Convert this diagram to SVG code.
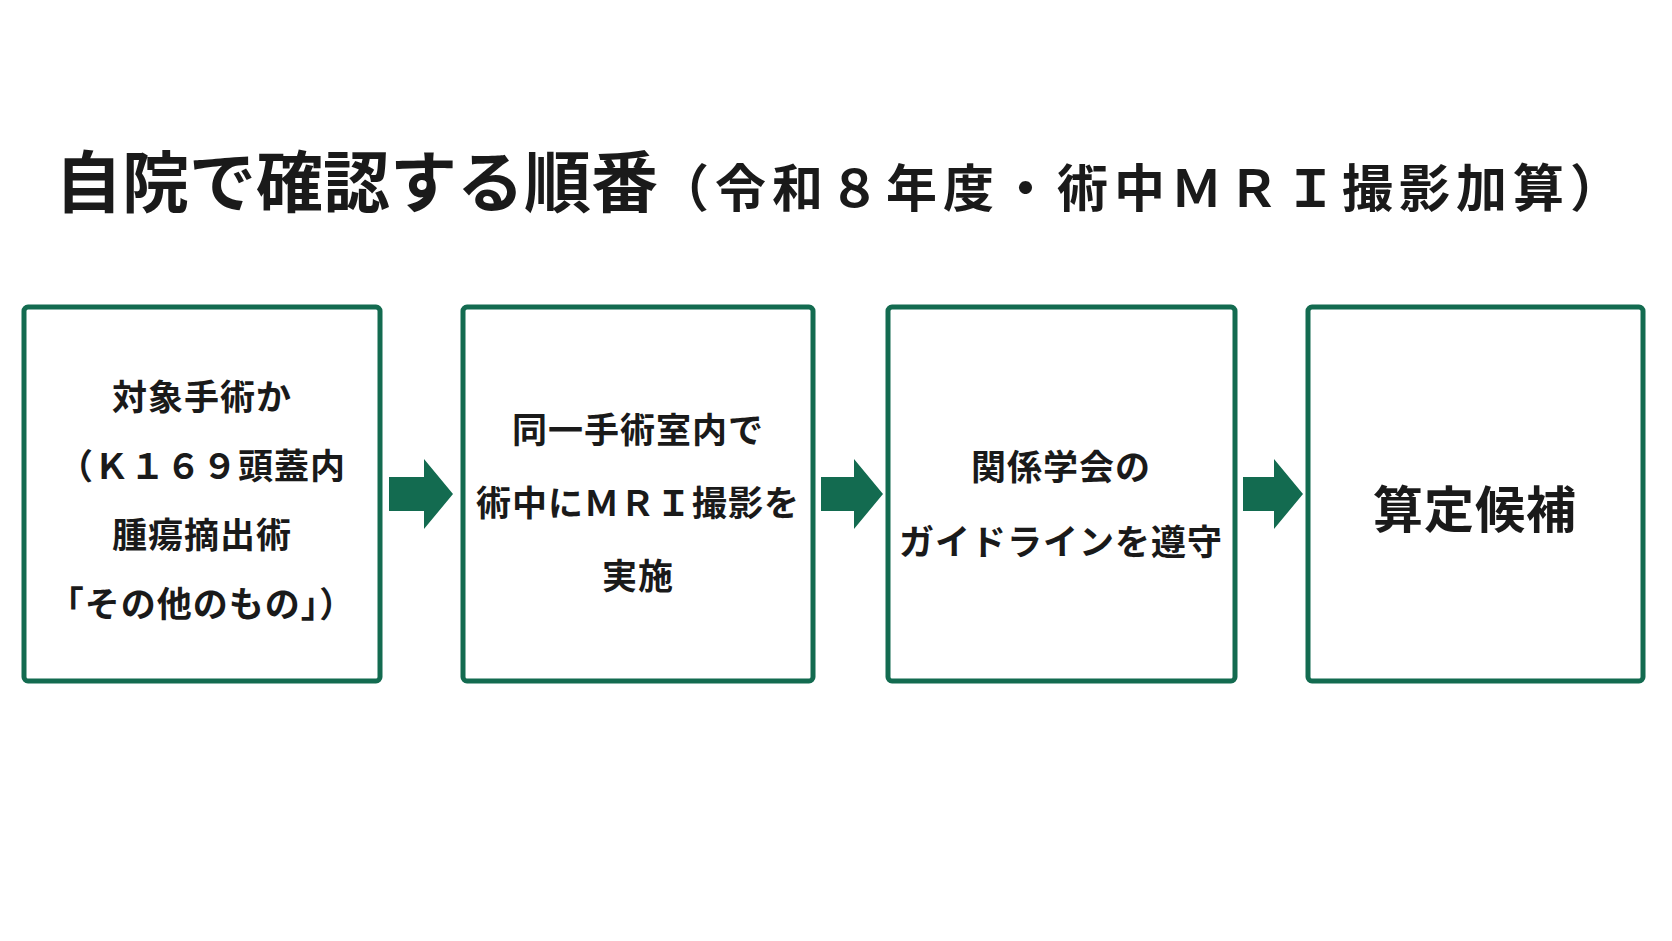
<svg xmlns="http://www.w3.org/2000/svg" width="1672" height="941" viewBox="0 0 1672 941">
<style>
text{font-family:"Noto Sans CJK JP","Noto Sans",sans-serif;font-weight:bold;fill:#1a1a1a}
.box{fill:#fff;stroke:#136b50;stroke-width:5}
.t{font-size:35px;text-anchor:middle;dominant-baseline:central;letter-spacing:1px}
.big{font-size:50px}
.arr{fill:#136b50}
</style>
<rect width="1672" height="941" fill="#fff"/>
<g id="title"><text x="55" y="207" style="font-size:67px">自院で確認する順番<tspan style="font-size:51px;letter-spacing:6px">（令和８年度・術中ＭＲＩ撮影加算）</tspan></text></g>
<g id="n1"><rect class="box" x="24" y="307" width="356" height="374" rx="4"/>
<text class="t" x="202" y="394">対象手術か</text><text class="t" x="202" y="463">（Ｋ１６９頭蓋内</text><text class="t" x="202" y="532">腫瘍摘出術</text><text class="t" x="202" y="601">「その他のもの」）</text></g>
<g id="n2"><rect class="box" x="463" y="307" width="350" height="374" rx="4"/>
<text class="t" x="638" y="427">同一手術室内で</text><text class="t" x="638" y="500">術中にＭＲＩ撮影を</text><text class="t" x="638" y="573">実施</text></g>
<g id="n3"><rect class="box" x="888" y="307" width="347" height="374" rx="4"/>
<text class="t" x="1061" y="464">関係学会の</text><text class="t" x="1061" y="539">ガイドラインを遵守</text></g>
<g id="n4"><rect class="box" x="1308" y="307" width="335" height="374" rx="4"/>
<text class="t big" x="1475" y="506">算定候補</text></g>
<g id="connectors">
<polygon class="arr" points="389,477 424,477 424,459 453,494 424,529 424,511 389,511"/>
<polygon class="arr" points="821,477 854,477 854,459 883,494 854,529 854,511 821,511"/>
<polygon class="arr" points="1243,477 1274,477 1274,459 1303,494 1274,529 1274,511 1243,511"/>
</g>
</svg>
